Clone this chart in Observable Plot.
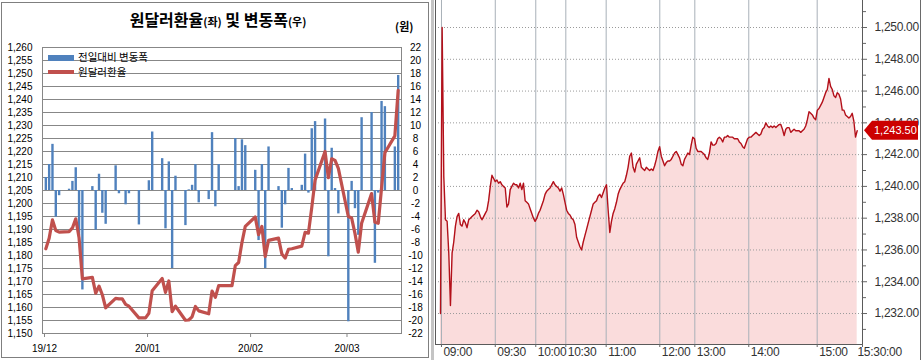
<!DOCTYPE html>
<html><head><meta charset="utf-8">
<script src="https://cdn.jsdelivr.net/npm/d3@7"></script>
<script src="https://cdn.jsdelivr.net/npm/@observablehq/plot@0.6"></script>
<style>
html,body{margin:0;padding:0;background:#fff;}
#wrap{position:relative;width:923px;height:360px;overflow:hidden;background:#fff;}
#leftPanel{position:absolute;left:0;top:0;width:430px;height:360px;font-family:"Noto Sans CJK KR","Noto Sans",sans-serif;}
#leftBox{position:absolute;left:1px;top:2px;width:428px;height:356px;border:1px solid #7f7f7f;box-sizing:border-box;}
#title{position:absolute;left:0;top:9px;width:436px;text-align:center;font-size:16px;font-weight:700;color:#000;line-height:20px;}
#title small{font-size:11px;font-weight:700;}
#unit{position:absolute;left:395px;top:19px;font-size:11px;font-weight:700;line-height:14px;}
.leg{position:absolute;font-size:10.5px;line-height:12px;height:12px;color:#000;white-space:nowrap;}
.sw{position:absolute;}
#leftPanel svg,#rightPanel svg{position:absolute;left:0;top:0;}
#rightPanel{position:absolute;left:434px;top:0;width:489px;height:360px;}
#sep{position:absolute;left:431px;top:0;width:3px;height:360px;background:#c4c4c4;}
#rEdge{position:absolute;left:920px;top:0;width:1px;height:360px;background:#6a6a6a;}
</style></head>
<body>
<div id="wrap">
  <div id="leftPanel">
    <div id="leftBox"></div>
    <div id="title">원달러환율<small>(좌)</small> 및 변동폭<small>(우)</small></div>
    <div id="unit">(원)</div>
  </div>
  <div id="sep"></div>
  <div id="rightPanel"></div>
  <div id="rEdge"></div>
</div>
<script>
// ---------- LEFT CHART DATA ----------
const dates = [
 "2019-12-02","2019-12-03","2019-12-04","2019-12-05","2019-12-06",
 "2019-12-09","2019-12-10","2019-12-11","2019-12-12","2019-12-13",
 "2019-12-16","2019-12-17","2019-12-18","2019-12-19","2019-12-20",
 "2019-12-23","2019-12-24","2019-12-25","2019-12-26","2019-12-27",
 "2019-12-30","2019-12-31","2020-01-01","2020-01-02","2020-01-03",
 "2020-01-06","2020-01-07","2020-01-08","2020-01-09","2020-01-10",
 "2020-01-13","2020-01-14","2020-01-15","2020-01-16","2020-01-17",
 "2020-01-20","2020-01-21","2020-01-22","2020-01-23","2020-01-24",
 "2020-01-27","2020-01-28","2020-01-29","2020-01-30","2020-01-31",
 "2020-02-03","2020-02-04","2020-02-05","2020-02-06","2020-02-07",
 "2020-02-10","2020-02-11","2020-02-12","2020-02-13","2020-02-14",
 "2020-02-17","2020-02-18","2020-02-19","2020-02-20","2020-02-21",
 "2020-02-24","2020-02-25","2020-02-26","2020-02-27","2020-02-28",
 "2020-03-02","2020-03-03","2020-03-04","2020-03-05","2020-03-06",
 "2020-03-09","2020-03-10","2020-03-11","2020-03-12","2020-03-13",
 "2020-03-16","2020-03-17"
];
const rate = [
 1182.6,1186.6,1193.7,1189.6,1189.0,
 1189.2,1190.6,1194.1,1186.8,1171.0,
 1171.6,1165.5,1168.2,1164.9,1159.9,
 1163.5,1163.3,1163.3,1161.2,1160.5,
 1156.0,1156.0,1156.0,1157.8,1166.4,
 1171.2,1165.8,1170.2,1158.4,1160.5,
 1155.1,1155.2,1156.4,1160.4,1158.7,
 1157.6,1166.3,1163.9,1168.4,1168.4,
 1168.4,1176.1,1177.3,1185.0,1191.2,
 1194.8,1188.0,1191.2,1179.6,1185.8,
 1186.7,1180.6,1179.0,1182.4,1182.6,
 1183.6,1188.9,1188.6,1198.4,1209.0,
 1220.0,1209.9,1217.2,1216.6,1213.5,
 1195.0,1194.4,1188.5,1181.3,1192.4,
 1203.8,1192.8,1192.4,1206.0,1219.5,
 1226.0,1243.5
];
const change = [
 2.0,4.0,7.1,-4.1,-0.8,
 0.2,1.4,3.5,-7.0,-15.3,
 0.6,-6.1,2.5,-3.5,-5.2,
 3.8,-0.5,null,-2.2,-0.5,
 -5.3,null,null,1.5,9.0,
 4.9,-5.9,4.4,-12.0,2.2,
 -5.4,0.1,0.8,4.0,-1.9,
 -1.4,8.9,-2.5,4.0,null,
 null,8.0,0.6,7.8,6.9,
 3.1,-7.7,4.0,-12.0,6.7,
 0.6,-5.8,-2.2,3.4,0.3,
 0.8,5.6,-0.4,9.5,10.6,
 11.0,-10.2,6.5,0.3,-3.6,
 -20.2,1.4,-2.8,-6.9,11.2,
 12.0,-11.2,-0.4,13.7,12.9,
 6.7,17.7
];
const leftTicks = [1150,1155,1160,1165,1170,1175,1180,1185,1190,1195,1200,1205,1210,1215,1220,1225,1230,1235,1240,1245,1250,1255,1260];
const rightTicks = [-22,-20,-18,-16,-14,-12,-10,-8,-6,-4,-2,0,2,4,6,8,10,12,14,16,18,20,22];
const monthTickDates = ["2019-12-01","2020-01-01","2020-02-01","2020-03-01"];
const monthTickLabels = ["19/12","20/01","20/02","20/03"];
const xDomainDates = ["2019-12-01","2020-03-18"];
const legendLabels = ["전일대비 변동폭","원달러환율"];

// ---------- RIGHT CHART DATA (intraday, sampled along the tick axis) ----------
const intraday = [
 1232.0,1250.0,1240.6,1237.9,1237.8,1235.8,1232.5,1235.8,1236.5,1237.5,
 1238.1,1238.3,1237.6,1237.5,1237.9,1237.7,1237.4,1237.9,1238.0,1238.1,
 1238.2,1238.3,1238.5,1238.4,1238.1,1237.9,1238.1,1238.3,1238.5,1239.1,
 1240.0,1240.7,1240.5,1240.3,1240.4,1240.2,1240.3,1240.1,1240.0,1239.9,
 1238.7,1238.9,1239.8,1240.0,1240.2,1240.1,1240.1,1239.9,1240.2,1239.8,
 1240.2,1239.1,1239.0,1238.9,1238.6,1238.3,1238.0,1237.8,1238.0,1238.3,
 1238.5,1238.8,1239.1,1239.5,1239.7,1239.8,1239.9,1240.1,1240.3,1240.1,
 1240.0,1239.9,1239.7,1239.9,1239.5,1239.0,1238.5,1238.3,1238.2,1238.0,
 1237.9,1237.6,1236.8,1236.5,1236.2,1236.0,1236.5,1236.9,1237.3,1237.7,
 1238.1,1238.5,1238.9,1239.0,1239.1,1239.4,1239.5,1239.3,1239.6,1239.9,
 1240.1,1238.5,1237.1,1237.8,1238.3,1238.6,1239.0,1239.5,1239.8,1240.0,
 1240.2,1240.3,1240.7,1241.2,1241.9,1242.1,1241.2,1240.9,1241.4,1241.6,
 1241.8,1241.2,1241.1,1241.0,
 1241.2,1241.1,1241.0,1241.1,1241.0,1241.3,1241.7,1242.2,1242.5,1241.9,
 1241.6,1241.3,1241.5,1241.6,1241.6,1241.7,1241.9,1242.1,1242.2,1242.0,
 1241.8,1241.4,1241.3,1241.7,1241.9,1242.1,1242.0,1242.6,1243.1,1243.0,
 1242.4,1242.2,1242.2,1242.2,1242.1,1242.0,1241.8,1241.7,1242.1,1242.8,
 1242.6,1242.6,1242.7,1243.0,1243.1,1243.0,1242.8,1243.1,1243.1,1243.2,
 1243.1,1243.1,1243.1,1243.0,1243.0,1243.0,1242.8,1242.7,1242.5,1242.4,
 1242.7,1243.0,1243.1,1243.1,1243.2,1243.3,1243.4,1243.3,1243.2,1243.3,
 1243.6,1243.7,1244.0,1243.8,1243.7,1243.8,1243.7,1243.8,1243.7,1243.8,
 1243.9,1243.9,1243.6,1243.2,1243.6,1243.7,1243.7,1243.4,1243.5,1243.6,
 1243.5,1243.5,1243.5,1243.4,1243.5,1243.6,1243.8,1244.2,1244.7,1244.6,
 1244.5,1244.3,1244.2,1244.8,1244.9,1245.1,1245.3,1245.6,1245.9,1246.1,
 1246.8,1246.3,1246.1,1245.7,1245.6,1245.9,1245.8,1245.5,1244.8,1244.8,
 1244.5,1244.4,1244.3,1244.4,1244.6,1244.1,1243.1,1243.5
];
const timeTickPos = [0.6,33.0,57.4,75.5,99.8,132.1,153.2,185.7,226.9,254.2];
const timeTickLabels = ["09:00","09:30","10:00","10:30","11:00","12:00","13:00","14:00","15:00","15:30:00"];
const priceTicks = [1232,1234,1236,1238,1240,1242,1244,1246,1248,1250];
const priceMinorTicks = [1231,1233,1235,1237,1239,1241,1243,1245,1247,1249,1251];
const priceDomain = [1230.05,1251.7];
const xStartPad = -3;

// ---------- LEFT CHART ----------
const zeroLeft = leftTicks[rightTicks.indexOf(0)];
const ratio = (leftTicks[leftTicks.length-1]-leftTicks[0])/(rightTicks[rightTicks.length-1]-rightTicks[0]);
const rows = dates.map((d,i)=>({date:new Date(d), rate:rate[i], chg:change[i]}));
const bars = rows.filter(d=>d.chg!=null);
const monthDates = monthTickDates.map(d=>new Date(d));
const monthLabelMap = new Map(monthDates.map((d,i)=>[+d, monthTickLabels[i]]));
const rightLabelMap = new Map(leftTicks.map((v,i)=>[v, String(rightTicks[i])]));

const leftPlot = Plot.plot({
  width: 430, height: 360,
  marginTop: 47, marginBottom: 27, marginLeft: 42, marginRight: 29,
  style: {fontFamily: '"Liberation Sans",Arial,sans-serif', fontSize: "10px", color: "#000", background: "none"},
  x: {type: "utc", domain: xDomainDates.map(d=>new Date(d))},
  y: {domain: [leftTicks[0], leftTicks[leftTicks.length-1]]},
  marks: [
    Plot.ruleY(leftTicks, {stroke: "#878787", strokeWidth: 1}),
    Plot.ruleX(bars, {x: "date", y1: zeroLeft, y2: d => zeroLeft + d.chg*ratio, stroke: "#4F81BD", strokeWidth: 2.4}),
    Plot.line(rows, {x: "date", y: "rate", stroke: "#C0504D", strokeWidth: 3.2, strokeLinejoin: "round", strokeLinecap: "round"}),
    Plot.frame({stroke: "#878787"}),
    Plot.axisY(leftTicks, {anchor: "left", label: null, tickSize: 0, tickPadding: 10, tickFormat: d3.format(",")}),
    Plot.axisY(leftTicks, {anchor: "right", label: null, tickSize: 0, tickPadding: 14, textAnchor: "middle", tickFormat: v => rightLabelMap.get(v)}),
    Plot.axisX(monthDates, {anchor: "bottom", label: null, tickSize: 4, tickPadding: 7, stroke: "#878787", dx: 2, tickFormat: d => monthLabelMap.get(+d)})
  ]
});
document.getElementById("leftPanel").appendChild(leftPlot);

// legend (inside plot area, top-left)
(function(){
  const lp = document.getElementById("leftPanel");
  const items = [
    {label: legendLabels[0], color: "#4F81BD", top: 55, h: 6, ttop: 51},
    {label: legendLabels[1], color: "#C0504D", top: 70, h: 4, ttop: 66}
  ];
  for (const it of items) {
    const sw = document.createElement("div");
    sw.className = "sw";
    sw.style.cssText = `left:48px;top:${it.top}px;width:26px;height:${it.h}px;background:${it.color};`;
    lp.appendChild(sw);
    const t = document.createElement("div");
    t.className = "leg";
    t.style.left = "78px"; t.style.top = it.ttop + "px";
    t.textContent = it.label;
    lp.appendChild(t);
  }
})();

// ---------- RIGHT CHART ----------
const rightFont = '"Liberation Sans Narrow","Liberation Sans",Arial,sans-serif';
const xMax = timeTickPos[timeTickPos.length-1];
const rightPlot = Plot.plot({
  width: 489, height: 360,
  marginTop: 0, marginBottom: 16, marginLeft: 1, marginRight: 61,
  style: {fontFamily: rightFont, fontSize: "12px", letterSpacing: "-0.3px", color: "#333", background: "none", overflow: "visible"},
  x: {domain: [xStartPad, xMax]},
  y: {domain: priceDomain},
  marks: [
    Plot.areaY(intraday, {x: (d,i)=>i, y1: priceDomain[0], y2: d=>d, fill: "#FADCDC"}),
    Plot.ruleY(priceTicks, {stroke: "#9a9a9a", strokeWidth: 1, strokeDasharray: "1,2"}),
    Plot.ruleX(timeTickPos.slice(0,-1), {stroke: "#A8B0B8", strokeWidth: 1}),
    Plot.lineY(intraday, {x: (d,i)=>i, y: d=>d, stroke: "#B3101A", strokeWidth: 1.4, strokeLinejoin: "round"}),
    Plot.ruleX([xStartPad, xMax], {stroke: "#5a5a5a", strokeWidth: 1}),
    Plot.ruleY([priceDomain[0]], {stroke: "#5a5a5a", strokeWidth: 1}),
    Plot.axisY(priceMinorTicks, {anchor: "right", label: null, tickSize: 3, stroke: "#666", tickFormat: () => ""}),
    Plot.axisY(priceTicks, {anchor: "right", label: null, tickSize: 4, tickPadding: 8, stroke: "#666", fill: "#333", tickFormat: d3.format(",.2f")}),
    Plot.axisX(timeTickPos, {anchor: "bottom", label: null, tickSize: 3, stroke: "#666", tickFormat: () => ""}),
    Plot.text(timeTickPos.slice(0,-1), {x: d=>d, frameAnchor: "bottom", dy: 11, dx: 2, textAnchor: "start", fill: "#333", text: (d,i)=>timeTickLabels[i]}),
    Plot.text(timeTickPos.slice(-1), {x: d=>d, frameAnchor: "bottom", dy: 11, dx: -5, textAnchor: "start", fill: "#333", text: () => timeTickLabels[timeTickLabels.length-1]})
  ]
});
document.getElementById("rightPanel").appendChild(rightPlot);

// current value badge, positioned with the plot's own scales
(function(){
  const last = intraday[intraday.length-1];
  const cy = rightPlot.scale("y").apply(last);
  const tx = rightPlot.scale("x").apply(xMax) + 2;
  const svg = d3.select(rightPlot);
  const h = 9.5, w = 54, notch = 8;
  svg.append("path")
    .attr("d", `M${tx},${cy} L${tx+notch},${cy-h} L${tx+w},${cy-h} L${tx+w},${cy+h} L${tx+notch},${cy+h} Z`)
    .attr("fill", "#CC0000");
  svg.append("text")
    .attr("x", tx + 10).attr("y", cy).attr("dy", "0.35em")
    .attr("text-anchor", "start")
    .attr("fill", "#fff").attr("font-family", rightFont).attr("font-size", 11)
    .attr("letter-spacing", "0")
    .text(d3.format(",.2f")(last));
})();
</script>
</body></html>
